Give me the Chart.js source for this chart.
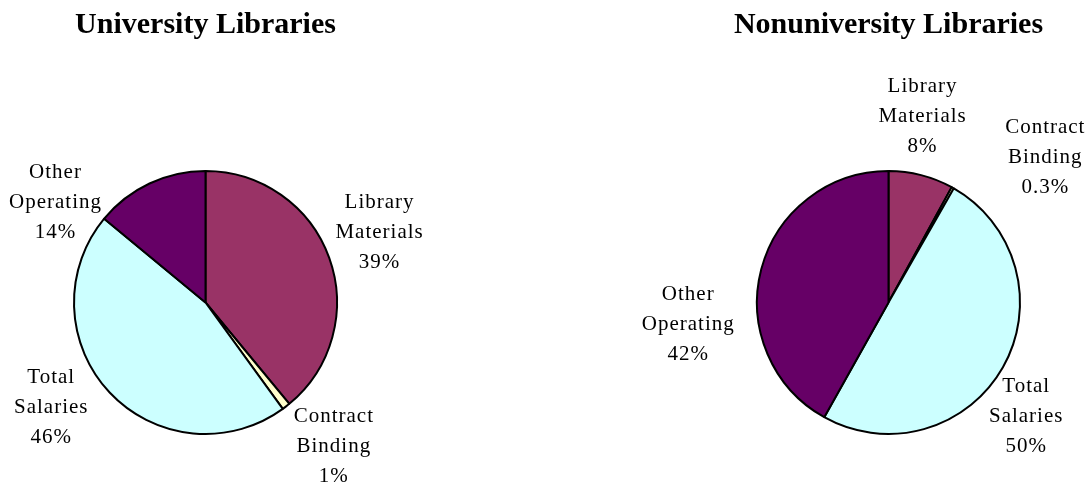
<!DOCTYPE html>
<html>
<head>
<meta charset="utf-8">
<script src="https://cdn.jsdelivr.net/npm/chart.js@4"></script>
<style>
  html, body { margin: 0; padding: 0; background: #fff; }
  .pie { position: absolute; top: 0; height: 484px; }
  #uni { left: 0; width: 543px; }
  #nonuni { left: 543px; width: 544px; }
</style>
</head>
<body>
<div class="pie" id="uni"><canvas id="uniChart"></canvas></div>
<div class="pie" id="nonuni"><canvas id="nonuniChart"></canvas></div>
<script>
var categories = [['Library', 'Materials'], ['Contract', 'Binding'], ['Total', 'Salaries'], ['Other', 'Operating']];
var universityShares = [39, 1, 46, 14];
var nonuniversityShares = [8, 0.3, 50, 42];
var sliceColors = ['#993366', '#ffffcc', '#ccffff', '#660066'];

// label placement per slice: [angle nudge in degrees (clockwise), distance past the rim]
var uniLabelPlace = [[-2, 56], [-4, 61], [9, 55], [-31, 49]];
var nonuniLabelPlace = [[-4, 58], [18, 82], [10, 47], [-21, 70]];

var serif = '"Liberation Serif", "Times New Roman", serif';

// writes "name / name / value%" outside each slice
var sliceLabels = {
  id: 'sliceLabels',
  afterDatasetsDraw: function(chart, args, opts) {
    var ctx = chart.ctx;
    var meta = chart.getDatasetMeta(0);
    var values = chart.data.datasets[0].data;
    ctx.save();
    ctx.font = '21px ' + serif;
    ctx.letterSpacing = '1px';
    ctx.fillStyle = '#000';
    ctx.textAlign = 'center';
    ctx.textBaseline = 'middle';
    meta.data.forEach(function(arc, i) {
      var p = arc.getProps(['x', 'y', 'startAngle', 'endAngle', 'outerRadius'], true);
      var a = (p.startAngle + p.endAngle) / 2 + opts.place[i][0] * Math.PI / 180;
      var d = p.outerRadius + opts.place[i][1];
      var cx = p.x + Math.cos(a) * d;
      var cy = p.y + Math.sin(a) * d;
      var lines = chart.data.labels[i].concat([values[i] + '%']);
      lines.forEach(function(t, k) {
        ctx.fillText(t, cx, cy + (k - 1) * 30);
      });
    });
    ctx.restore();
  }
};

function makePie(id, title, shares, place, padding) {
  return new Chart(document.getElementById(id), {
    type: 'pie',
    data: {
      labels: categories,
      datasets: [{
        data: shares,
        backgroundColor: sliceColors,
        borderColor: '#000',
        borderWidth: 2,
        radius: 131.5
      }]
    },
    options: {
      responsive: true,
      maintainAspectRatio: false,
      animation: false,
      layout: { padding: padding },
      plugins: {
        legend: { display: false },
        tooltip: { enabled: false },
        title: {
          display: true,
          text: title,
          color: '#000',
          font: { family: serif, size: 30, weight: 'bold' },
          padding: { top: 7, bottom: 78 }
        },
        sliceLabels: { place: place }
      }
    },
    plugins: [sliceLabels]
  });
}

makePie('uniChart', 'University Libraries', universityShares, uniLabelPlace, { left: 0, right: 132 });
makePie('nonuniChart', 'Nonuniversity Libraries', nonuniversityShares, nonuniLabelPlace, { left: 147, right: 0 });
</script>
</body>
</html>
